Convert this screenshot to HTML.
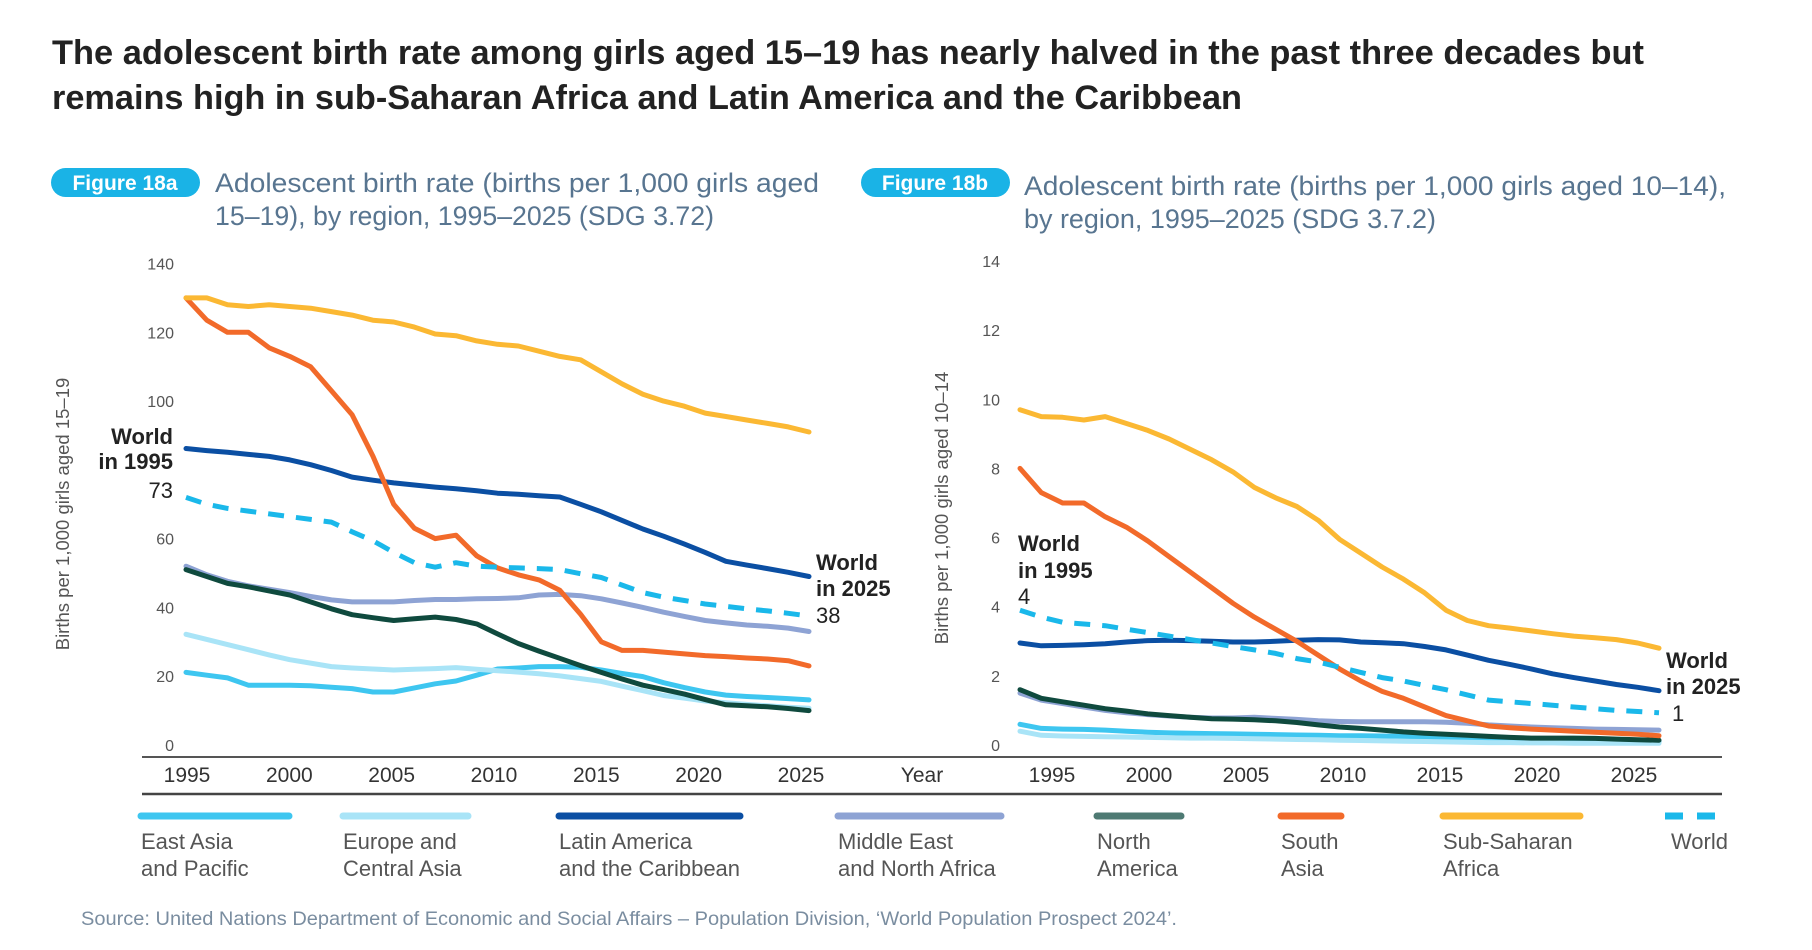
<!DOCTYPE html>
<html><head><meta charset="utf-8"><style>
body{margin:0;background:#fff;}
svg{display:block;font-family:"Liberation Sans",sans-serif;}
</style></head><body>
<svg id="c" width="1812" height="950" viewBox="0 0 1812 950">
<text x="52" y="64" font-size="34" font-weight="bold" fill="#222" textLength="1592" lengthAdjust="spacingAndGlyphs">The adolescent birth rate among girls aged 15–19 has nearly halved in the past three decades but</text>
<text x="52" y="109" font-size="34" font-weight="bold" fill="#222" textLength="1190" lengthAdjust="spacingAndGlyphs">remains high in sub-Saharan Africa and Latin America and the Caribbean</text>
<rect x="51" y="168" width="149" height="29" rx="14.5" fill="#1ab3e6"/>
<text x="125" y="190" font-size="21" font-weight="bold" fill="#fff" text-anchor="middle">Figure 18a</text>
<text x="215" y="192" font-size="27" fill="#587590" textLength="604" lengthAdjust="spacingAndGlyphs">Adolescent birth rate (births per 1,000 girls aged</text>
<text x="215" y="225" font-size="27" fill="#587590" textLength="499" lengthAdjust="spacingAndGlyphs">15–19), by region, 1995–2025 (SDG 3.72)</text>
<rect x="861" y="168" width="149" height="29" rx="14.5" fill="#1ab3e6"/>
<text x="935" y="190" font-size="21" font-weight="bold" fill="#fff" text-anchor="middle">Figure 18b</text>
<text x="1024" y="195" font-size="27" fill="#587590" textLength="702" lengthAdjust="spacingAndGlyphs">Adolescent birth rate (births per 1,000 girls aged 10–14),</text>
<text x="1024" y="228" font-size="27" fill="#587590" textLength="412" lengthAdjust="spacingAndGlyphs">by region, 1995–2025 (SDG 3.7.2)</text>
<text transform="translate(69,514) rotate(-90)" font-size="18.5" fill="#555" text-anchor="middle">Births per 1,000 girls aged 15–19</text>
<text transform="translate(948,508) rotate(-90)" font-size="18.5" fill="#555" text-anchor="middle">Births per 1,000 girls aged 10–14</text>
<line x1="142" y1="757" x2="1722" y2="757" stroke="#555" stroke-width="2"/>
<line x1="142" y1="794" x2="1722" y2="794" stroke="#444" stroke-width="2.5"/>
<text x="922" y="782" font-size="21" fill="#333" text-anchor="middle">Year</text>
<g id="gA"></g><g id="gB"></g><g id="leg"></g>
<g font-size="22" fill="#222">
<text x="173" y="444" font-weight="bold" text-anchor="end">World</text>
<text x="173" y="469" font-weight="bold" text-anchor="end">in 1995</text>
<text x="173" y="498" text-anchor="end">73</text>
<text x="816" y="570" font-weight="bold">World</text>
<text x="816" y="596" font-weight="bold">in 2025</text>
<text x="816" y="623">38</text>
<text x="1018" y="551" font-weight="bold">World</text>
<text x="1018" y="578" font-weight="bold">in 1995</text>
<text x="1018" y="604">4</text>
<text x="1666" y="668" font-weight="bold">World</text>
<text x="1666" y="694" font-weight="bold">in 2025</text>
<text x="1672" y="721">1</text>
</g>
<text x="81" y="925" font-size="19.5" fill="#7a8da0" textLength="1096" lengthAdjust="spacingAndGlyphs">Source: United Nations Department of Economic and Social Affairs – Population Division, ‘World Population Prospect 2024’.</text>
</svg>
<script>
const years = [];
for (let y = 1995; y <= 2025; y++) years.push(y);
const seriesNames = ["East Asia and Pacific","Europe and Central Asia","Latin America and the Caribbean","Middle East and North Africa","North America","South Asia","Sub-Saharan Africa","World"];
const xTicks = [1995,2000,2005,2010,2015,2020,2025];
const yTicksA = [0,20,40,60,100,120,140];
const yTicksB = [0,2,4,6,8,10,12,14];
const eastAsiaA = [21.1,20.3,19.5,17.4,17.4,17.4,17.2,16.8,16.4,15.4,15.4,16.6,17.8,18.6,20.3,22.1,22.4,22.8,22.8,22.6,21.8,20.8,19.9,18.1,16.7,15.4,14.5,14.1,13.8,13.5,13.1];
const europeA = [32.2,30.7,29.2,27.7,26.2,24.8,23.8,22.8,22.4,22.1,21.8,22,22.2,22.5,22,21.6,21.2,20.7,20.1,19.3,18.5,17.1,15.8,14.4,13.6,12.8,12.3,11.8,11.4,11,10.7];
const latinA = [86.2,85.6,85.1,84.5,83.9,82.9,81.5,79.8,77.9,77.0,76.2,75.6,75.0,74.5,73.9,73.2,72.9,72.5,72.1,70.0,67.8,65.3,62.8,60.7,58.4,56.0,53.4,52.3,51.3,50.2,49.0];
const mideastA = [52,49.5,47.6,46.3,45.3,44.3,43.2,42.2,41.6,41.6,41.6,42.0,42.3,42.3,42.5,42.6,42.8,43.6,43.8,43.4,42.5,41.3,40,38.6,37.4,36.2,35.5,34.9,34.5,34.0,33.0];
const northAmA = [51,49,47,46,44.8,43.6,41.6,39.6,37.9,37,36.2,36.7,37.2,36.5,35.2,32.3,29.5,27.3,25.2,23.1,21.1,19.2,17.4,16.1,14.8,13.2,11.7,11.4,11.1,10.6,10];
const southAsiaA = [130,123.5,120,120,115.5,113,110,103,96,84,70,63,60,61,55,51.5,49.5,48,45,38,30,27.5,27.5,27,26.5,26,25.7,25.3,25,24.5,23];
const subSaharaA = [130,130,128,127.5,128,127.5,127,126,125,123.5,123,121.5,119.5,119,117.5,116.5,116,114.5,113,112,108.5,105,102,100,98.5,96.5,95.5,94.5,93.5,92.5,91];
const worldA = [72,70,68.8,68,67.2,66.4,65.6,64.8,62,59.4,56,53,51.7,53,52,51.7,51.5,51.3,51,49.8,48.7,46.5,44.3,43,42,41,40.3,39.6,39,38.3,37.5];
const eastAsiaB = [0.6,0.48,0.46,0.45,0.43,0.4,0.37,0.35,0.34,0.33,0.32,0.31,0.3,0.29,0.28,0.27,0.27,0.26,0.25,0.24,0.22,0.2,0.18,0.17,0.16,0.15,0.14,0.13,0.12,0.11,0.1];
const europeB = [0.4,0.28,0.26,0.25,0.24,0.23,0.22,0.21,0.2,0.2,0.19,0.18,0.17,0.16,0.15,0.14,0.13,0.12,0.11,0.1,0.09,0.08,0.07,0.07,0.06,0.06,0.05,0.05,0.05,0.05,0.05];
const latinB = [2.95,2.87,2.88,2.9,2.93,2.98,3.02,3.03,3.02,3.0,2.98,2.98,3.0,3.03,3.05,3.04,2.98,2.96,2.93,2.85,2.75,2.6,2.45,2.33,2.2,2.06,1.95,1.85,1.75,1.67,1.57];
const mideastB = [1.5,1.3,1.2,1.1,1.0,0.93,0.88,0.84,0.8,0.78,0.78,0.8,0.77,0.74,0.7,0.68,0.67,0.67,0.67,0.67,0.66,0.63,0.58,0.55,0.52,0.5,0.48,0.46,0.45,0.44,0.43];
const northAmB = [1.6,1.35,1.25,1.15,1.05,0.98,0.9,0.85,0.8,0.76,0.75,0.73,0.7,0.65,0.58,0.52,0.48,0.43,0.38,0.34,0.31,0.28,0.25,0.22,0.2,0.2,0.2,0.19,0.17,0.15,0.14];
const southAsiaB = [8.0,7.3,7.0,7.0,6.6,6.3,5.9,5.45,5.0,4.55,4.1,3.7,3.35,3.0,2.6,2.2,1.85,1.55,1.35,1.1,0.85,0.7,0.55,0.5,0.46,0.43,0.4,0.37,0.34,0.31,0.27];
const subSaharaB = [9.7,9.5,9.48,9.4,9.5,9.3,9.1,8.85,8.55,8.25,7.9,7.45,7.15,6.9,6.5,5.95,5.55,5.15,4.8,4.4,3.9,3.6,3.45,3.38,3.3,3.22,3.15,3.1,3.05,2.95,2.8];
const worldB = [3.9,3.7,3.55,3.5,3.45,3.35,3.25,3.15,3.05,2.95,2.85,2.75,2.65,2.5,2.4,2.25,2.1,1.95,1.85,1.72,1.6,1.45,1.3,1.25,1.2,1.15,1.1,1.05,1.0,0.97,0.93];

const colors = ["#3ec6f0","#a9e4f7","#0b4fa3","#8ea3d4","#0f4a3e","#f26a2a","#fbb833","#1ab8ea"];
const NS = "http://www.w3.org/2000/svg";
function mk(tag, attrs, parent){const e=document.createElementNS(NS,tag);for(const k in attrs)e.setAttribute(k,attrs[k]);parent.appendChild(e);return e;}

const xA = y => 186 + (y-1995)*(809-186)/30;
const xLabA = y => 187 + (y-1995)*(801-187)/30;
const yA = v => 745 - v*(745-263.5)/140;
const xB = y => 1020 + (y-1995)*(1659-1020)/30;
const xLabB = y => 1052 + (y-1995)*(1634-1052)/30;
const yB = v => 745 - v*(745-261)/14;

function drawPanel(g, xs, xl, ys, yTicks, tickX, series, suffix){
  yTicks.forEach(t=>{
    const e=mk('text',{x:tickX,y:ys(t)+6,'font-size':16,fill:'#555','text-anchor':'end'},g);
    
    
    e.textContent=t;
  });
  xTicks.forEach(t=>{
    const e=mk('text',{x:xl(t),y:782,'font-size':21,fill:'#333','text-anchor':'middle'},g);
    
    
    e.textContent=t;
  });
  series.forEach((s,i)=>{
    const d=s.map((v,j)=>(j?'L':'M')+xs(years[j]).toFixed(1)+','+ys(v).toFixed(1)).join('');
    const attrs={d:d,fill:'none',stroke:colors[i],'stroke-width':5,'stroke-linejoin':'round','stroke-linecap':'round'};
    if(i===7){attrs['stroke-dasharray']='16 12';attrs['stroke-linecap']='butt';}
    const p=mk('path',attrs,g);
    
    
  });
}
const orderA=[eastAsiaA,europeA,latinA,mideastA,northAmA,southAsiaA,subSaharaA,worldA];
const orderB=[eastAsiaB,europeB,latinB,mideastB,northAmB,southAsiaB,subSaharaB,worldB];
drawPanel(document.getElementById('gA'),xA,xLabA,yA,yTicksA,174,orderA,'a');
drawPanel(document.getElementById('gB'),xB,xLabB,yB,yTicksB,1000,orderB,'b');

const legX=[141,343,559,838,1097,1281,1443,1665];
const legW=[148,125,181,163,84,60,137,59];
const legL1=["East Asia","Europe and","Latin America","Middle East","North","South","Sub-Saharan","World"];
const legL2=["and Pacific","Central Asia","and the Caribbean","and North Africa","America","Asia","Africa",""];
const legG=document.getElementById('leg');
seriesNames.forEach((n,i)=>{
  const g=mk('g',{},legG);
  
  
  const a={x1:legX[i],y1:816,x2:legX[i]+legW[i],y2:816,stroke:i===4?'#4e7a73':colors[i],'stroke-width':7,'stroke-linecap':'round'};
  if(i===7){a['stroke-dasharray']='18 14';a['stroke-linecap']='butt';}
  mk('line',a,g);
  const tx = i===7 ? legX[i]+legW[i]+4 : legX[i];
  const t1=mk('text',{x:tx,y:849,'font-size':22,fill:'#555','text-anchor':i===7?'end':'start'},g);
  t1.textContent=legL1[i];
  const t2=mk('text',{x:tx,y:876,'font-size':22,fill:'#555'},g);
  t2.textContent=legL2[i];
});
</script>
</body></html>
